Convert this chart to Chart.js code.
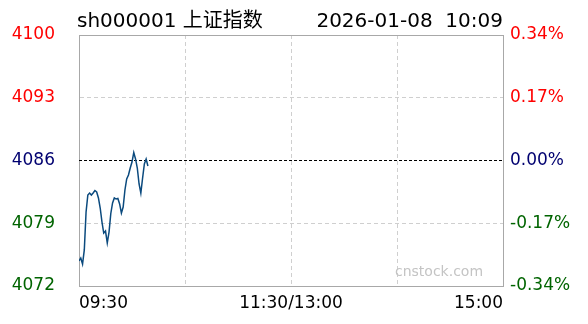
<!DOCTYPE html>
<html>
<head>
<meta charset="utf-8">
<script src="https://cdn.jsdelivr.net/npm/chart.js@4/dist/chart.umd.min.js"></script>
<style>
    html, body { margin: 0; padding: 0; background: #fff; }
    #wrap { position: relative; width: 588px; height: 324px; font-family: "DejaVu Sans", "Noto Sans CJK SC", sans-serif; }
    #riskChart { position: absolute; left: 0; top: 0; }
    .txt { position: absolute; white-space: pre; color: #000; }
    #title { left: 77px; top: 10px; font-size: 20px; line-height: 20px; }
    #stamp { right: 85px; top: 10px; font-size: 20px; line-height: 20px; }
    #mark { left: 395px; top: 262px; font-size: 14px; line-height: 18px; color: #c4c4c4; }
</style>
</head>
<body>
<div id="wrap">
    <canvas id="riskChart" width="588" height="324"></canvas>
    <div class="txt" id="title">sh000001 上证指数</div>
    <div class="txt" id="stamp">2026-01-08  10:09</div>
    <div class="txt" id="mark">cnstock.com</div>
</div>
<script>
// Данные: минуты от 09:30 и значения индекса
const prevClose = 4086;
const yMin = 4072;
const yMax = 4100;
const minuteTicks = [0, 60, 120, 180, 240];
const minuteLabels = { 0: '09:30', 120: '11:30/13:00', 240: '15:00' };
const prices = [
    4074.79, 4075.12, 4074.45, 4076.02, 4080.25, 4082.15, 4082.37, 4082.15, 4082.37, 4082.65,
    4082.49, 4081.82, 4080.70, 4079.14, 4077.91, 4078.13, 4076.80, 4078.02, 4080.09, 4081.26,
    4081.82, 4081.70, 4081.76, 4081.15, 4080.14, 4080.81, 4082.71, 4083.94, 4084.38, 4085.16,
    4085.83, 4086.89, 4086.17, 4085.16, 4083.38, 4082.37, 4084.05, 4085.61, 4086.17, 4085.39
];

const font = { family: '"DejaVu Sans", sans-serif', size: 17 };

// Цвет подписи: выше вчерашнего закрытия — красный, ниже — зелёный
function tickColor(context) {
    const v = context.tick ? context.tick.value : prevClose;
    if (v > prevClose) return '#ff0000';
    if (v < prevClose) return '#006400';
    return '#000070';
}

document.addEventListener('DOMContentLoaded', () => {
    const ctx = document.getElementById('riskChart').getContext('2d');

    const chartData = {
        datasets: [
            {
                label: 'price',
                data: prices.map((p, i) => ({ x: i, y: p })),
                borderColor: '#0b4a7e',
                borderWidth: 1.5,
                pointRadius: 0,
                tension: 0,
                fill: false,
                order: 1
            },
            {
                label: 'prevClose',
                data: [{ x: 0, y: prevClose }, { x: 240, y: prevClose }],
                borderColor: '#000',
                borderWidth: 1,
                borderDash: [3, 2],
                pointRadius: 0,
                fill: false,
                order: 2
            }
        ]
    };

    const config = {
        type: 'line',
        data: chartData,
        options: {
            responsive: false,
            animation: false,
            layout: { padding: 0 },
            plugins: {
                legend: { display: false },
                tooltip: { enabled: false }
            },
            scales: {
                x: {
                    type: 'linear',
                    position: 'bottom',
                    min: 0,
                    max: 240,
                    afterBuildTicks: (scale) => {
                        scale.ticks = minuteTicks.map(v => ({ value: v }));
                    },
                    afterFit: (scale) => { scale.height = 38; },
                    ticks: {
                        autoSkip: false,
                        maxRotation: 0,
                        align: 'inner',
                        padding: 7,
                        color: '#000',
                        font: font,
                        callback: (v) => minuteLabels[v] || ''
                    },
                    grid: {
                        drawTicks: false,
                        color: (c) => (c.tick && (c.tick.value === 0 || c.tick.value === 240)) ? 'rgba(0,0,0,0)' : '#cfcfcf'
                    },
                    border: { color: '#a8a8a8', width: 1, dash: [4, 3] }
                },
                x2: {
                    type: 'linear',
                    position: 'top',
                    min: 0,
                    max: 240,
                    afterFit: (scale) => { scale.height = 35; },
                    ticks: { display: false },
                    grid: { display: false, drawTicks: false },
                    border: { color: '#a8a8a8', width: 1 }
                },
                y: {
                    type: 'linear',
                    position: 'left',
                    min: yMin,
                    max: yMax,
                    afterFit: (scale) => { scale.width = 79; },
                    ticks: {
                        stepSize: 7,
                        padding: 24,
                        color: tickColor,
                        font: font,
                        callback: (v) => String(v)
                    },
                    grid: {
                        drawTicks: false,
                        color: (c) => (c.tick && c.tick.value !== yMin && c.tick.value !== yMax && c.tick.value !== prevClose) ? '#cfcfcf' : 'rgba(0,0,0,0)'
                    },
                    border: { color: '#a8a8a8', width: 1, dash: [4, 3] }
                },
                y1: {
                    type: 'linear',
                    position: 'right',
                    min: yMin,
                    max: yMax,
                    afterFit: (scale) => { scale.width = 85; },
                    ticks: {
                        stepSize: 7,
                        padding: 7,
                        color: tickColor,
                        font: font,
                        callback: (v) => ((v - prevClose) / prevClose * 100).toFixed(2) + '%'
                    },
                    grid: { display: false, drawTicks: false },
                    border: { color: '#a8a8a8', width: 1 }
                }
            }
        }
    };

    window.riskChart = new Chart(ctx, config);
});
</script>
</body>
</html>
